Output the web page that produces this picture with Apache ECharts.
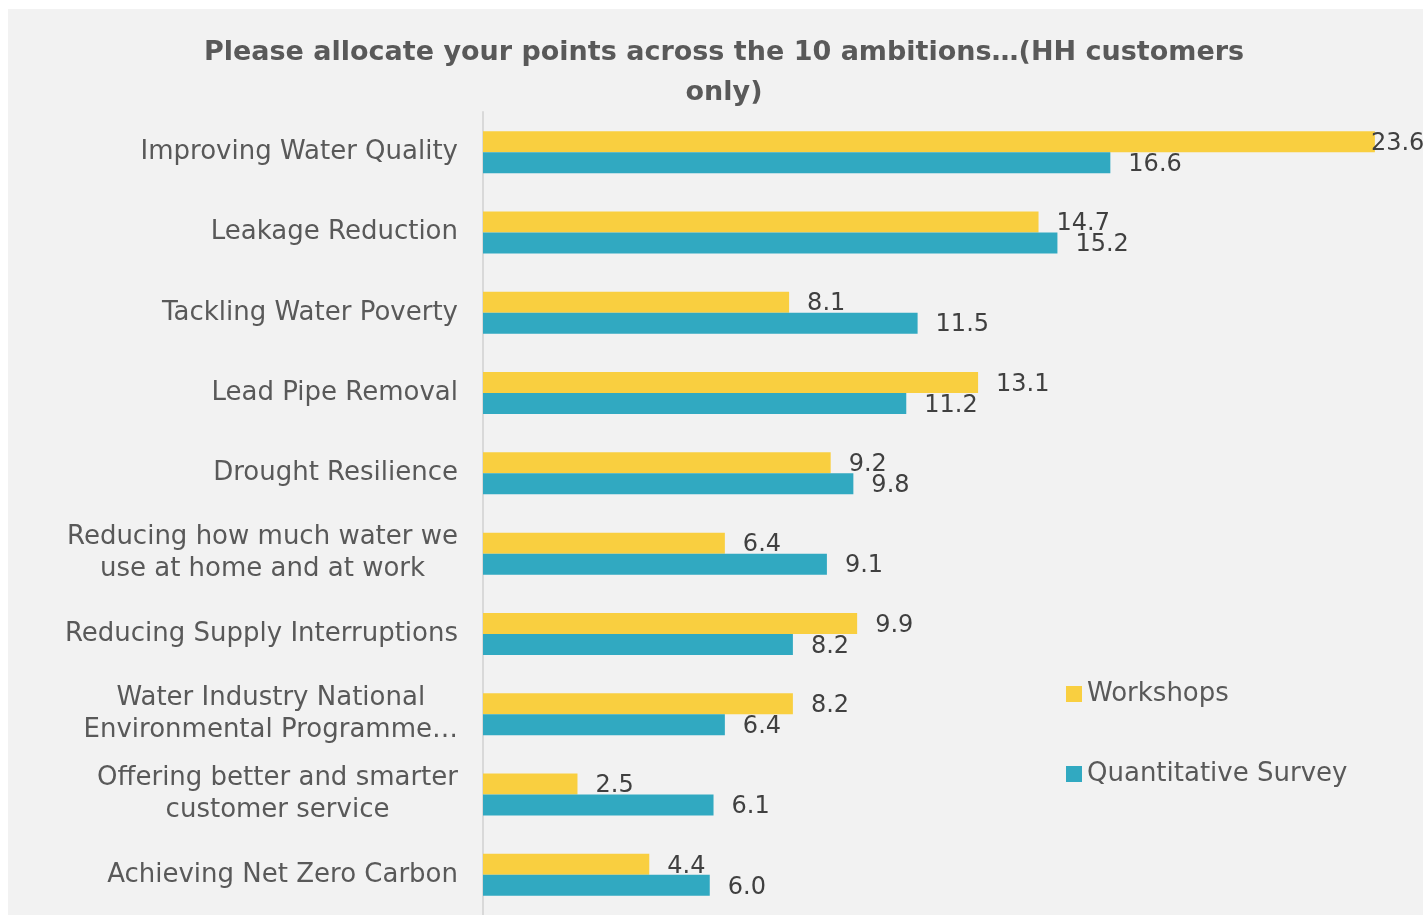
<!DOCTYPE html>
<html>
<head>
<meta charset="utf-8">
<script src="https://cdn.jsdelivr.net/npm/echarts@6/dist/echarts.min.js"></script>
<style>
  html, body { margin: 0; padding: 0; background: #ffffff; }
  #chart { position: absolute; left: 8px; top: 9px; width: 1415px; height: 906px; }
</style>
</head>
<body>
<div id="chart"></div>
<script>
  // ambitions, top to bottom
  const categories = [
    'Improving Water Quality',
    'Leakage Reduction',
    'Tackling Water Poverty',
    'Lead Pipe Removal',
    'Drought Resilience',
    'Reducing how much water we\nuse at home and at work',
    'Reducing Supply Interruptions',
    'Water Industry National\nEnvironmental Programme…',
    'Offering better and smarter\ncustomer service',
    'Achieving Net Zero Carbon'
  ];
  const workshops = [23.6, 14.7, 8.1, 13.1, 9.2, 6.4, 9.9, 8.2, 2.5, 4.4];
  const survey = [16.6, 15.2, 11.5, 11.2, 9.8, 9.1, 8.2, 6.4, 6.1, 6.0];

  const font = 'DejaVu Sans';
  const chart = echarts.init(document.getElementById('chart'));

  const valueLabel = {
    show: true,
    position: 'right',
    distance: 18,
    offset: [0, 2],
    color: '#404040',
    fontFamily: font,
    fontSize: 24,
    formatter: p => p.value.toFixed(1)
  };

  chart.setOption({
    backgroundColor: '#f2f2f2',
    animation: false,
    title: {
      text: 'Please allocate your points across the 10 ambitions…(HH customers\nonly)',
      left: 711,
      textAlign: 'center',
      top: 19,
      textStyle: {
        fontFamily: font,
        fontWeight: 'bold',
        fontSize: 27,
        color: '#595959',
        lineHeight: 40
      }
    },
    legend: {
      orient: 'vertical',
      left: 1053,
      top: 667,
      itemWidth: 16,
      itemHeight: 16,
      itemGap: 54,
      icon: 'rect',
      textStyle: { fontFamily: font, fontSize: 26, color: '#595959' },
      data: ['Workshops', 'Quantitative Survey']
    },
    grid: { left: 475, top: 103, width: 907, height: 806, containLabel: false },
    xAxis: {
      type: 'value',
      min: 0,
      max: 24,
      show: false
    },
    yAxis: {
      type: 'category',
      inverse: true,
      data: categories,
      axisLine: { show: true, lineStyle: { color: '#d9d9d9', width: 2 } },
      axisTick: { show: false },
      axisLabel: {
        margin: 25,
        color: '#595959',
        fontFamily: font,
        fontSize: 26,
        lineHeight: 32,
        align: 'right',
        formatter: v => v.split('\n').map(s => '{c|' + s + '}').join('\n'),
        rich: { c: { align: 'center', fontFamily: font, fontSize: 26, color: '#595959', lineHeight: 32 } }
      }
    },
    series: [
      {
        name: 'Workshops',
        type: 'bar',
        barWidth: 21,
        barGap: '0%',
        itemStyle: { color: '#f9cf40' },
        label: valueLabel,
        // the longest bar keeps its label inside the frame
        data: workshops.map(v => v > 22 ? { value: v, label: { distance: -4 } } : v)
      },
      {
        name: 'Quantitative Survey',
        type: 'bar',
        barWidth: 21,
        itemStyle: { color: '#31a9c1' },
        label: valueLabel,
        data: survey
      }
    ]
  });
</script>
</body>
</html>
